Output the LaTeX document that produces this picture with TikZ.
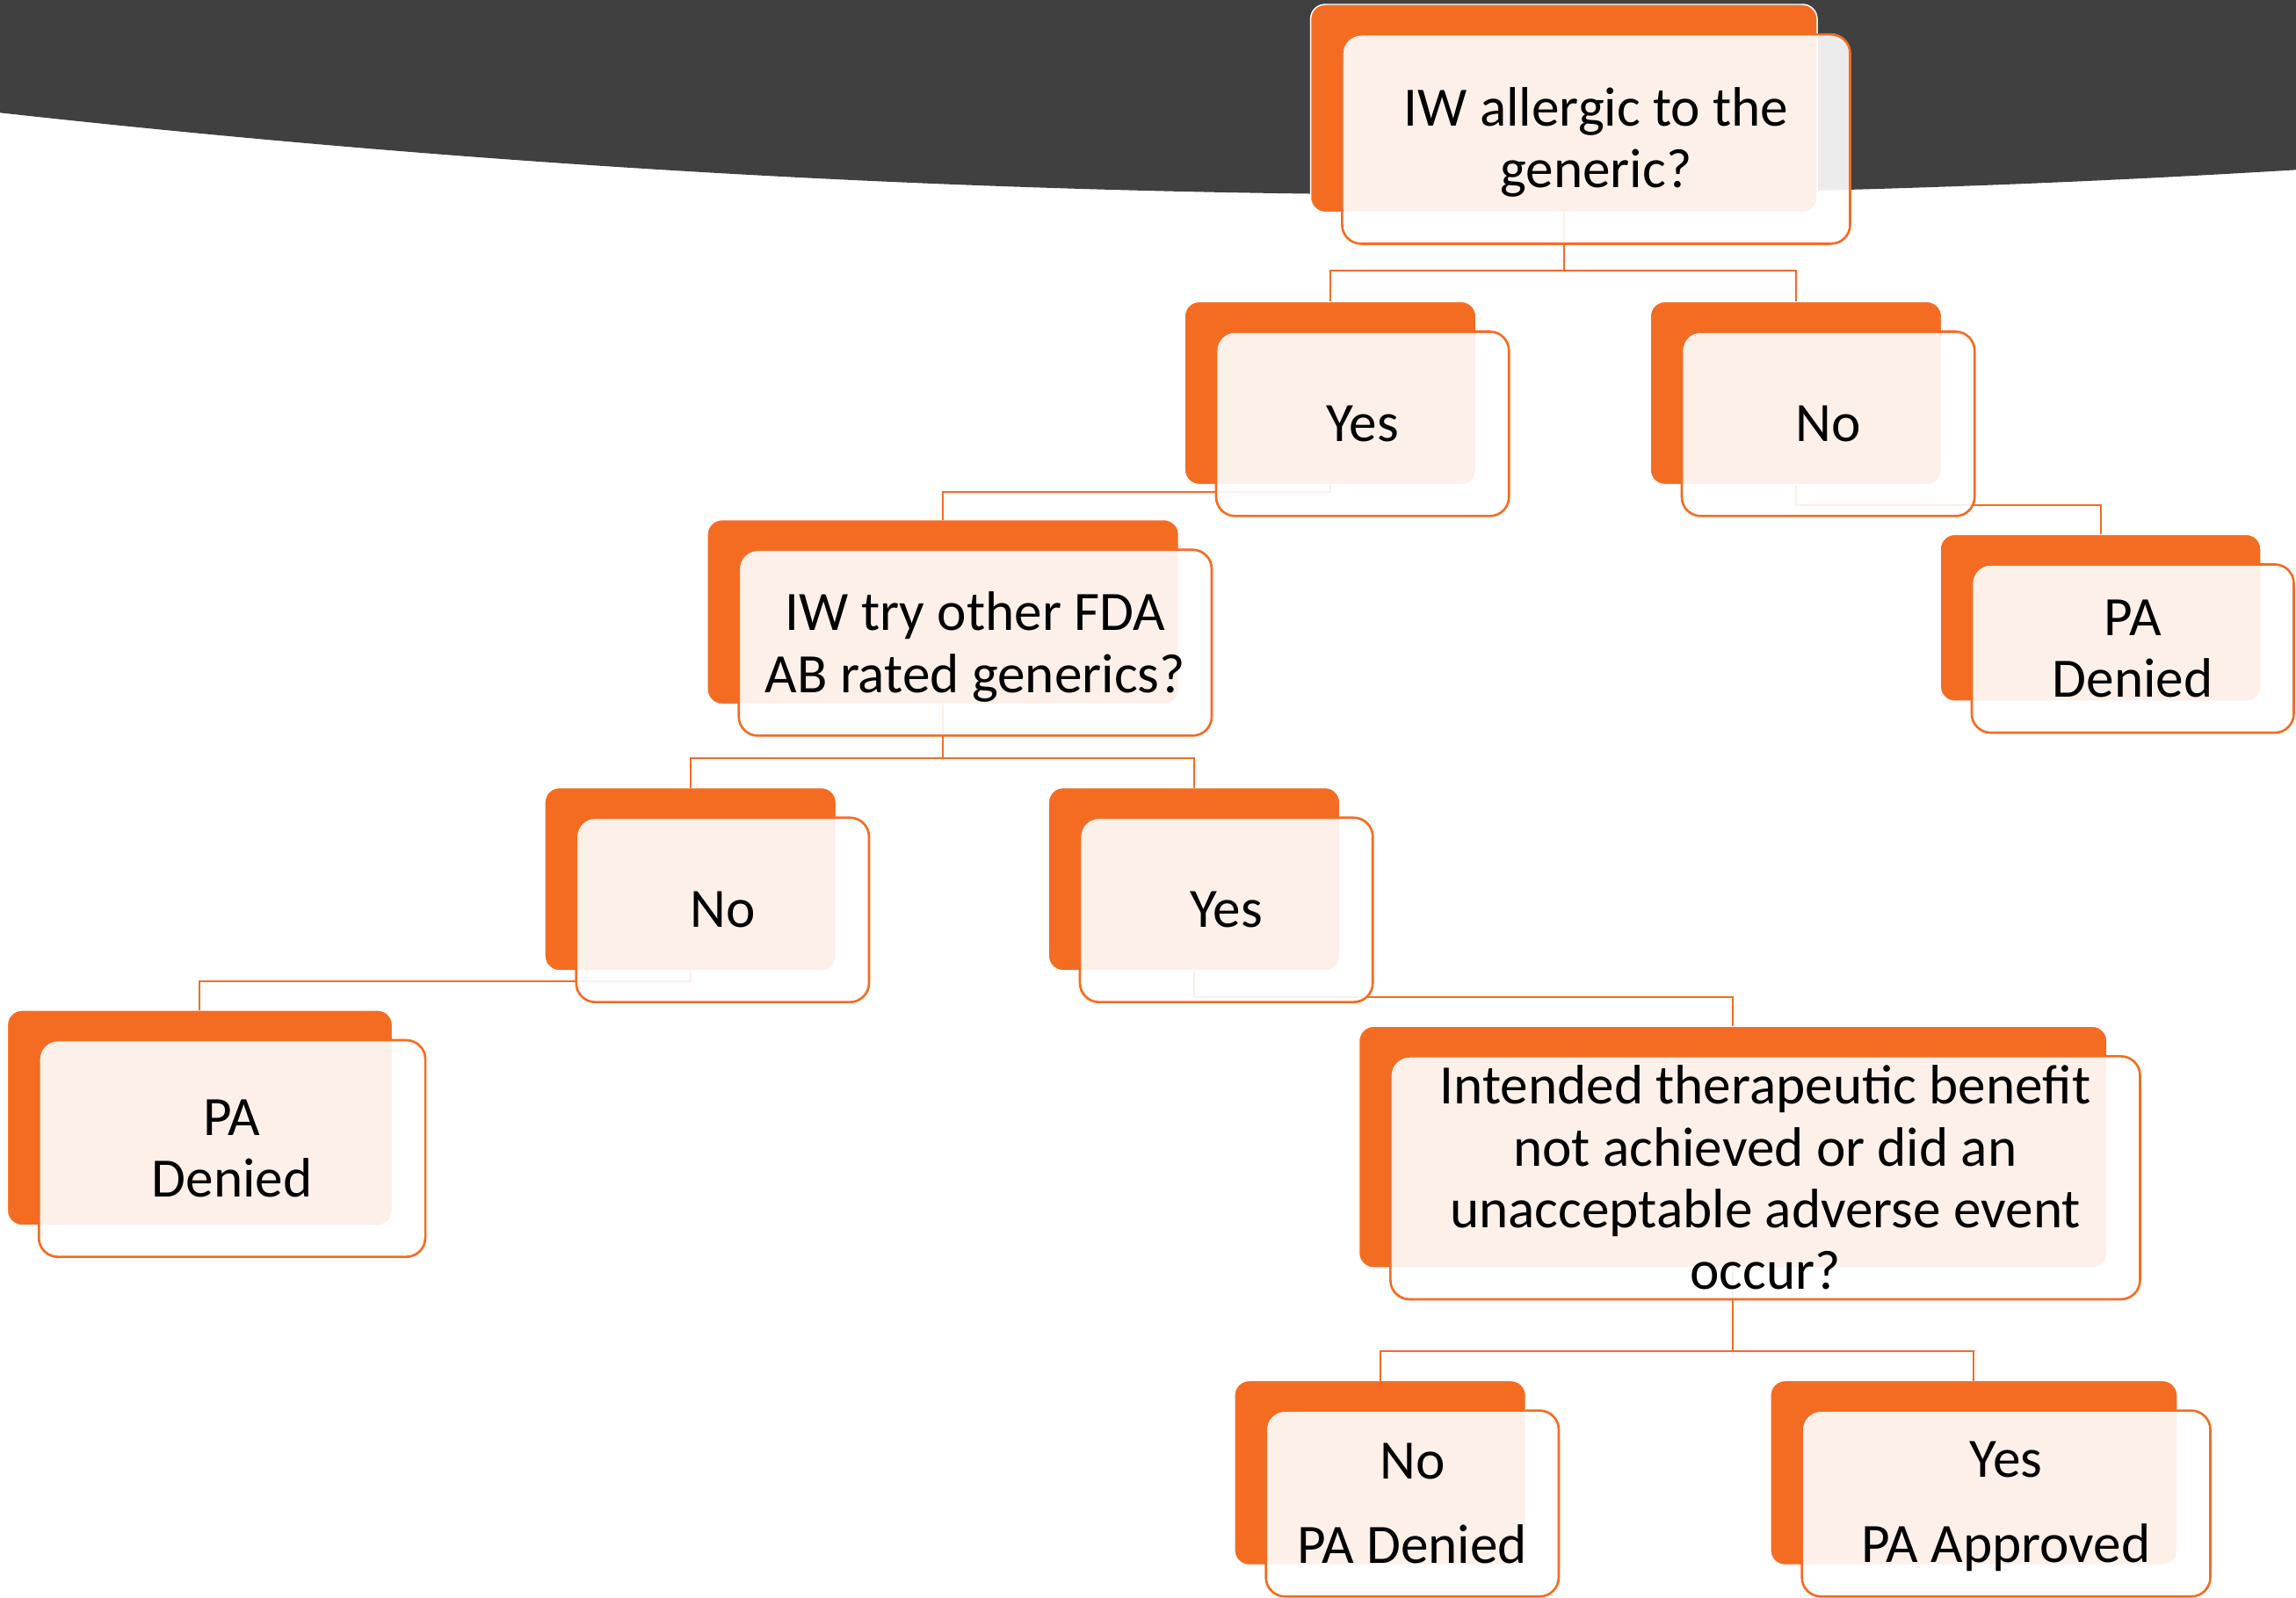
\documentclass[tikz,border=0pt]{standalone}
\usepackage{fontspec}
\setmainfont{Carlito}
\definecolor{bandgray}{HTML}{404040}
\definecolor{org}{HTML}{F46C22}
\begin{document}
\begin{tikzpicture}[x=0.02cm,y=-0.02cm,
  backbox/.style={draw=white, line width=0.5pt, fill=org, rounded corners=0.2cm, inner sep=0pt, outer sep=0pt},
  frontbox/.style={draw=org, line width=0.9pt, fill=white, fill opacity=0.9, rounded corners=0.26cm, inner sep=0pt, outer sep=0pt},
  lbl/.style={font=\fontsize{21.6}{24}\selectfont, align=center, text=black, inner sep=0pt},
  conn/.style={draw=org, line width=0.7pt}]
\useasboundingbox (0,0) rectangle (1568,1091);
\clip (0,0) rectangle (1568,1091);
\fill[bandgray] (0,0) -- (0,77) .. controls (522.7,135) and (1045.3,148) .. (1568,116) -- (1568,0) -- cycle;

% back boxes
\node[backbox, minimum width=6.92cm, minimum height=2.84cm] (b1) at (1068,74) {};
\node[backbox, minimum width=3.98cm, minimum height=2.50cm] (b2) at (908.5,268.5) {};
\node[backbox, minimum width=3.98cm, minimum height=2.50cm] (b3) at (1226.5,268.5) {};
\node[backbox, minimum width=6.44cm, minimum height=2.52cm] (b4) at (644,418) {};
\node[backbox, minimum width=4.38cm, minimum height=2.28cm] (b5) at (1434.5,422) {};
\node[backbox, minimum width=3.98cm, minimum height=2.50cm] (b6) at (471.5,600.5) {};
\node[backbox, minimum width=3.98cm, minimum height=2.50cm] (b7) at (815.5,600.5) {};
\node[backbox, minimum width=5.26cm, minimum height=2.94cm] (b8) at (136.5,763.5) {};
\node[backbox, minimum width=10.22cm, minimum height=3.30cm] (b9) at (1183.5,783.5) {};
\node[backbox, minimum width=3.98cm, minimum height=2.52cm] (b10) at (942.5,1006) {};
\node[backbox, minimum width=5.56cm, minimum height=2.52cm] (b11) at (1348,1006) {};

% junctions
\coordinate (j1) at (1068,185);
\coordinate (j2) at (908.5,336);
\coordinate (j3) at (1226.5,345);
\coordinate (j4) at (644,518);
\coordinate (j5) at (471.5,670);
\coordinate (j6) at (815.5,681);
\coordinate (j7) at (1183.5,923);

% connectors
\draw[conn] (b1.south) -- (j1) -| (b2.north);
\draw[conn] (j1) -| (b3.north);
\draw[conn] (b2.south) -- (j2) -| (b4.north);
\draw[conn] (b3.south) -- (j3) -| (b5.north);
\draw[conn] (b4.south) -- (j4) -| (b6.north);
\draw[conn] (j4) -| (b7.north);
\draw[conn] (b6.south) -- (j5) -| (b8.north);
\draw[conn] (b7.south) -- (j6) -| (b9.north);
\draw[conn] (b9.south) -- (j7) -| (b10.north);
\draw[conn] (j7) -| (b11.north);

% front boxes
\node[frontbox, minimum width=6.94cm, minimum height=2.86cm] (f1) at ([shift={(22,21)}]b1.center) {};
\node[frontbox, minimum width=4.00cm, minimum height=2.52cm] (f2) at ([shift={(22,21)}]b2.center) {};
\node[frontbox, minimum width=4.00cm, minimum height=2.52cm] (f3) at ([shift={(22,21)}]b3.center) {};
\node[frontbox, minimum width=6.46cm, minimum height=2.54cm] (f4) at ([shift={(22,21)}]b4.center) {};
\node[frontbox, minimum width=4.40cm, minimum height=2.30cm] (f5) at ([shift={(22,21)}]b5.center) {};
\node[frontbox, minimum width=4.00cm, minimum height=2.52cm] (f6) at ([shift={(22,21)}]b6.center) {};
\node[frontbox, minimum width=4.00cm, minimum height=2.52cm] (f7) at ([shift={(22,21)}]b7.center) {};
\node[frontbox, minimum width=5.28cm, minimum height=2.96cm] (f8) at ([shift={(22,21)}]b8.center) {};
\node[frontbox, minimum width=10.24cm, minimum height=3.32cm] (f9) at ([shift={(22,21)}]b9.center) {};
\node[frontbox, minimum width=4.00cm, minimum height=2.54cm] (f10) at ([shift={(22,21)}]b10.center) {};
\node[frontbox, minimum width=5.58cm, minimum height=2.54cm] (f11) at ([shift={(22,21)}]b11.center) {};

% texts
\node[lbl] (t1) at ([shift={(0,2)}]f1.center) {IW allergic to the\\generic?};
\node[lbl] (t2) at (f2.center) {Yes};
\node[lbl] (t3) at (f3.center) {No};
\node[lbl] (t4) at ([shift={(0,3)}]f4.center) {IW try other FDA\\AB rated generics?};
\node[lbl] (t5) at (f5.center) {PA\\Denied};
\node[lbl] (t6) at (f6.center) {No};
\node[lbl] (t7) at (f7.center) {Yes};
\node[lbl] (t8) at (f8.center) {PA\\Denied};
\node[lbl] (t9) at (f9.center) {Intended therapeutic benefit\\not achieved or did an\\unacceptable adverse event\\occur?};
\node[lbl] (t10) at (f10.center) {No\\[9pt]PA Denied};
\node[lbl] (t11) at ([shift={(0,2)}]f11.center) {Yes\\[9pt]PA Approved};
\end{tikzpicture}
\end{document}
